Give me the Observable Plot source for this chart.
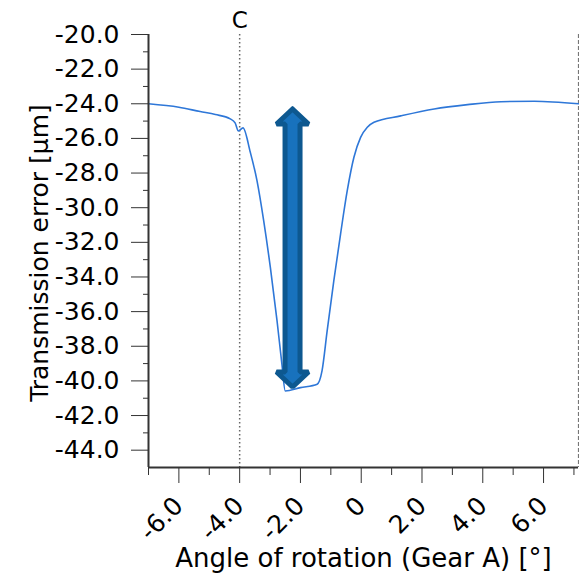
<!DOCTYPE html>
<html>
<head>
<meta charset="utf-8">
<script src="https://cdn.jsdelivr.net/npm/d3@7"></script>
<script src="https://cdn.jsdelivr.net/npm/@observablehq/plot@0.6"></script>
<style>
  html, body { margin: 0; padding: 0; background: #fff; }
  #chart { width: 579px; height: 577px; overflow: hidden; }
</style>
</head>
<body>
<div id="chart"></div>
<script>
// ---- data ----
const angle = [-7.0, -6.0, -5.3, -4.8, -4.31, -4.15, -4.04, -3.89, -3.65, -3.43, -3.21, -2.99, -2.77, -2.61, -2.50, -2.0, -1.45, -1.29, -1.12, -0.90, -0.68, -0.46, -0.24, -0.02, 0.20, 0.42, 1.30, 2.40, 3.5, 4.6, 5.7, 7.15];
const transmissionError = [-24.0, -24.2, -24.45, -24.62, -24.87, -25.1, -25.57, -25.39, -26.8, -28.44, -30.75, -33.45, -36.53, -39.03, -40.58, -40.39, -40.19, -39.42, -37.1, -34.2, -31.52, -29.02, -27.09, -25.94, -25.36, -25.07, -24.7, -24.3, -24.05, -23.88, -23.85, -24.0];

const xMajorTicks = [-6, -4, -2, 0, 2, 4, 6];
const xMinorTicks = [-7, -5, -3, -1, 1, 3, 5, 7];
const yMajorTicks = [-20, -22, -24, -26, -28, -30, -32, -34, -36, -38, -40, -42, -44];
const yMinorTicks = [-21, -23, -25, -27, -29, -31, -33, -35, -37, -39, -41, -43];

const markerC = [-4.0];
const markerCLabel = ["C"];
const rightEdge = [7.15];
const arrowX = [-2.26];
const arrowEnds = [-24.3, -40.35]; // top tip, bottom tip

const xTitle = ["Angle of rotation (Gear A) [°]"];
const yTitle = ["Transmission error [µm]"];

// ---- layout ----
const W = 579, H = 577;
const mL = 148, mR = 1, mT = 34, mB = 110;
const xDomain = [-7, 7.15], yDomain = [-45, -20];
const pxPerX = (W - mL - mR) / (xDomain[1] - xDomain[0]);
const pxPerY = (H - mT - mB) / (yDomain[1] - yDomain[0]);

const curveData = angle.map((a, i) => ({a, te: transmissionError[i]}));

// double-headed block arrow outline (shape sizes in px, converted to data units)
const sh = 7.5 / pxPerX, hh = 16 / pxPerX, hl = 15 / pxPerY;
const ax = arrowX[0], aTop = arrowEnds[0], aBot = arrowEnds[1];
const arrowPoly = [
  [ax, aTop], [ax + hh, aTop - hl], [ax + sh, aTop - hl], [ax + sh, aBot + hl], [ax + hh, aBot + hl],
  [ax, aBot], [ax - hh, aBot + hl], [ax - sh, aBot + hl], [ax - sh, aTop - hl], [ax - hh, aTop - hl], [ax, aTop]
].map(([x, y]) => ({x, y}));

const font = "'DejaVu Sans', Verdana, sans-serif";

const chart = Plot.plot({
  width: W, height: H,
  marginLeft: mL, marginRight: mR, marginTop: mT, marginBottom: mB,
  style: {fontFamily: font, fontSize: "25px", color: "#000", background: "#fff", overflow: "visible"},
  x: {domain: xDomain},
  y: {domain: yDomain},
  marks: [
    Plot.ruleX(markerC, {stroke: "#666", strokeWidth: 1.5, strokeDasharray: "1.5,2.5"}),
    Plot.ruleX(rightEdge, {stroke: "#777", strokeWidth: 1.2, strokeDasharray: "4,2"}),
    Plot.line(curveData, {x: "a", y: "te", stroke: "#2e77d8", strokeWidth: 1.6, curve: "monotone-x"}),
    Plot.line(arrowPoly, {x: "x", y: "y", fill: "#1872bd", stroke: "#0d5890", strokeWidth: 5, strokeLinejoin: "miter"}),
    Plot.axisY({ticks: yMajorTicks, tickSize: 17, tickPadding: 12, tickFormat: d => d.toFixed(1), label: null, fontSize: 25, stroke: "#333"}),
    Plot.axisY({ticks: yMinorTicks, tickSize: 5, tickFormat: () => "", label: null, stroke: "#333"}),
    Plot.axisX({ticks: xMajorTicks, tickSize: 16, tickPadding: 18, tickRotate: -45, tickFormat: d => d === 0 ? "0" : d.toFixed(1), label: null, fontSize: 25, stroke: "#333"}),
    Plot.axisX({ticks: xMinorTicks, tickSize: 8, tickFormat: () => "", label: null, stroke: "#333"}),
    Plot.ruleX([xDomain[0]], {stroke: "#333", strokeWidth: 2}),
    Plot.ruleY([yDomain[0]], {stroke: "#333", strokeWidth: 2}),
    Plot.text(markerCLabel, {x: markerC, text: d => d, frameAnchor: "top", lineAnchor: "middle", dy: -14, fontSize: 23}),
    Plot.text(xTitle, {text: d => d, frameAnchor: "bottom", lineAnchor: "middle", dy: 91, fontSize: 26}),
    Plot.text(yTitle, {text: d => d, frameAnchor: "left", textAnchor: "middle", lineAnchor: "middle", rotate: -90, dx: -109, dy: 2, fontSize: 25})
  ]
});
document.getElementById("chart").appendChild(chart);
</script>
</body>
</html>
